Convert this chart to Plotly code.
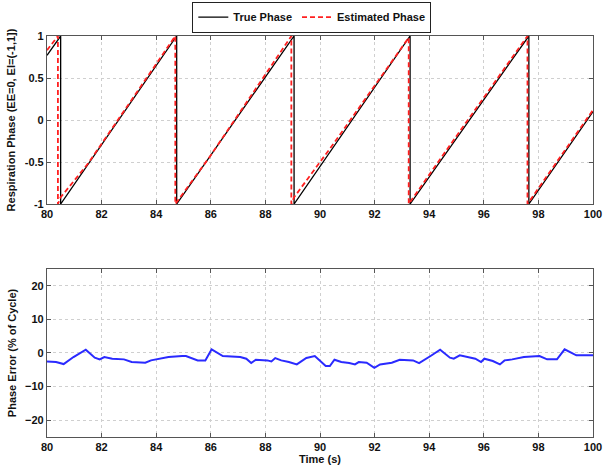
import plotly.graph_objects as go
from plotly.subplots import make_subplots

# True phase (sawtooth, with resets)
true_t = [80, 80.5, 80.5, 84.75, 84.75, 89.05, 89.05, 93.3, 93.3, 97.65, 97.65, 100]
true_phase = [0.77, 1, -1, 1, -1, 1, -1, 1, -1, 1, -1, 0.1]

# Estimated phase
est_t = [80, 80.4, 80.4, 80.5, 81.5, 84.7, 84.7, 86.0, 88.95, 88.95, 89.05, 90.5,
         93.25, 93.25, 94.5, 97.6, 97.6, 100]
est_phase = [0.83, 1, -1, -0.92, -0.52, 1, -1, -0.42, 1, -1, -0.92, -0.28,
             0.98, -1, -0.42, 1, -1, 0.12]

# Phase error (% of cycle)
err_t = [80, 80.33, 80.61, 80.97, 81.42, 81.75, 81.93, 82.1, 82.39, 82.82, 83.1, 83.6,
         83.81, 84.45, 84.95, 85.09, 85.52, 85.8, 86.03, 86.44, 87.08, 87.3, 87.48,
         87.65, 88.07, 88.22, 88.36, 88.58, 88.86, 89.15, 89.5, 89.81, 90.21, 90.36,
         90.53, 90.78, 91.07, 91.28, 91.42, 91.71, 91.99, 92.2, 92.63, 92.92, 93.41,
         93.63, 94.05, 94.4, 94.76, 94.9, 95.12, 95.48, 95.69, 95.9, 96.02, 96.33,
         96.59, 96.76, 97.04, 97.47, 98.04, 98.32, 98.68, 98.96, 99.39, 100]
err_val = [-2.5, -2.7, -3.3, -1.2, 1.0, -1.4, -1.9, -1.2, -1.7, -1.9, -2.7, -2.9,
           -2.2, -1.2, -0.9, -0.9, -2.2, -2.2, 1.1, -0.9, -1.2, -1.7, -3.0,
           -2.0, -2.2, -2.5, -1.5, -2.2, -2.7, -3.4, -1.5, -0.9, -3.9, -3.9,
           -2.0, -2.7, -3.0, -3.4, -2.7, -2.9, -4.4, -3.4, -2.9, -2.0, -2.2,
           -3.0, -0.9, 1.0, -1.4, -1.7, -0.7, -1.4, -1.7, -2.7, -1.7, -2.4,
           -3.4, -2.2, -1.9, -1.2, -0.9, -1.9, -1.9, 1.1, -0.7, -0.7]

x_ticks = [80, 82, 84, 86, 88, 90, 92, 94, 96, 98, 100]
phase_ticks = [-1, -0.5, 0, 0.5, 1]
phase_ticklabels = ["-1", "-0.5", "0", "0.5", "1"]
err_ticks = [-20, -10, 0, 10, 20]

fig = make_subplots(rows=2, cols=1, vertical_spacing=0.162)

fig.add_trace(go.Scatter(x=true_t, y=true_phase, mode="lines", name="True Phase",
                         line=dict(color="black", width=1.3)), row=1, col=1)
fig.add_trace(go.Scatter(x=est_t, y=est_phase, mode="lines", name="Estimated Phase",
                         line=dict(color="#ff2020", width=1.8, dash="5px,3px")), row=1, col=1)
fig.add_trace(go.Scatter(x=err_t, y=err_val, mode="lines", showlegend=False,
                         line=dict(color="#2a2aff", width=2)), row=2, col=1)

font_fam = "Liberation Sans, Arial, sans-serif"
tickfont = dict(family=font_fam, size=11, color="#111111", weight="bold")
titlefont = dict(family=font_fam, size=11, color="#111111", weight="bold")

axis_common = dict(showline=True, linecolor="#555555", linewidth=1.2, mirror="ticks",
                   ticks="inside", ticklen=4, tickcolor="#555555",
                   showgrid=True, gridcolor="#cfcfcf", griddash="dot", gridwidth=1,
                   zeroline=False, tickfont=tickfont, automargin=False)

fig.update_xaxes(range=[80, 100], tickvals=x_ticks, **axis_common)
fig.update_xaxes(title_text="Time (s)", title_font=titlefont, title_standoff=1, row=2, col=1)
fig.update_yaxes(range=[-1, 1], tickvals=phase_ticks, ticktext=phase_ticklabels,
                 title_text="Respiration Phase (EE=0, EI=(-1,1])", title_font=titlefont,
                 title_standoff=6, row=1, col=1, **axis_common)
fig.update_yaxes(range=[-25, 25], tickvals=err_ticks,
                 title_text="Phase Error (% of Cycle)", title_font=titlefont,
                 title_standoff=6, row=2, col=1, **axis_common)

fig.update_layout(
    width=606, height=468,
    margin=dict(l=47, r=13, t=36, b=31, autoexpand=False),
    paper_bgcolor="white", plot_bgcolor="white",
    font=dict(family=font_fam, size=11, color="black"),
    legend=dict(orientation="h", x=0.485, xanchor="center", y=1.047, yanchor="middle",
                bordercolor="#222222", borderwidth=1, bgcolor="white",
                font=dict(family=font_fam, size=11, color="#111111", weight="bold"),
                itemwidth=30, tracegroupgap=0),
)
fig.update_yaxes(domain=[0.581, 1.0], row=1, col=1)
fig.update_yaxes(domain=[0.0, 0.419], row=2, col=1)

fig.write_html("out.html")
